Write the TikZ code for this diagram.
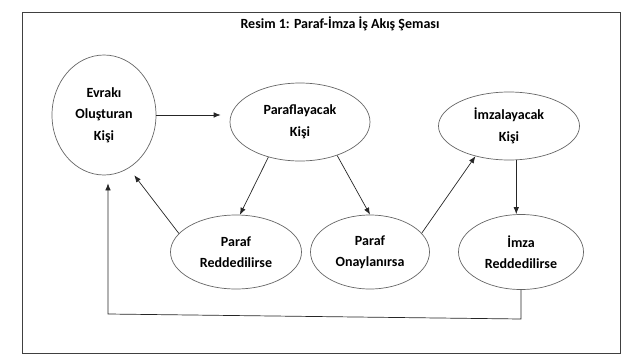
\documentclass[tikz,border=0pt]{standalone}
\usepackage{fontspec}
\setmainfont{Carlito}
\usetikzlibrary{shapes.geometric,arrows.meta}

\begin{document}
\begin{tikzpicture}[x=1pt,y=-1pt,>={Latex[length=7pt,width=5.5pt]}, line width=0.7pt]
    \tikzstyle{kisi} = [draw=black!60, ellipse, inner sep=0pt, align=center, font=\fontsize{14}{21.5}\selectfont\bfseries]
    \tikzstyle{ok} = [->, draw=black!85]

    \useasboundingbox (0,0) rectangle (628,356);

    % Çerçeve ve başlık
    \draw[black!75, line width=0.8pt] (22,12) rectangle (620,353);
    \node[font=\fontsize{14}{16}\selectfont\bfseries] (baslik) at (340,24) {Resim 1: Paraf-İmza İş Akış Şeması};

    % Kişiler (üst sıra)
    \node[kisi, minimum width=104, minimum height=120] (evrak) at (104,115) {Evrakı\\Oluşturan\\Kişi};
    \node[kisi, minimum width=140, minimum height=78] (paraf) at (300,122) {Paraflayacak\\Kişi};
    \node[kisi, minimum width=141, minimum height=68] (imzala) at (509,126) {İmzalayacak\\Kişi};

    % Durumlar (alt sıra)
    \node[kisi, minimum width=131, minimum height=74] (pRed) at (236,252) {Paraf\\Reddedilirse};
    \node[kisi, minimum width=119, minimum height=74] (pOnay) at (370,252) {Paraf\\Onaylanırsa};
    \node[kisi, minimum width=125, minimum height=75] (iRed) at (521,252) {İmza\\Reddedilirse};

    % Dönüş hattı köşeleri
    \coordinate (donusR) at (521,319);
    \coordinate (donusL) at (108,314);

    % Oklar
    \draw[ok, shorten >=9pt] (evrak.east) -- (evrak.east -| paraf.west);
    \draw[ok] (paraf.228) -- (pRed.84);
    \draw[ok] (paraf.318) -- (pOnay.north);
    \draw[ok] (pOnay.20) -- (imzala.222);
    \draw[ok] (imzala.282) -- (imzala.282 |- iRed.north);
    \draw[ok, shorten >=9pt] (pRed.162) -- (evrak.295);
    \draw[ok, shorten >=8pt] (iRed.south) -- (donusR) -- (donusL) -- (donusL |- evrak.south);
\end{tikzpicture}
\end{document}
